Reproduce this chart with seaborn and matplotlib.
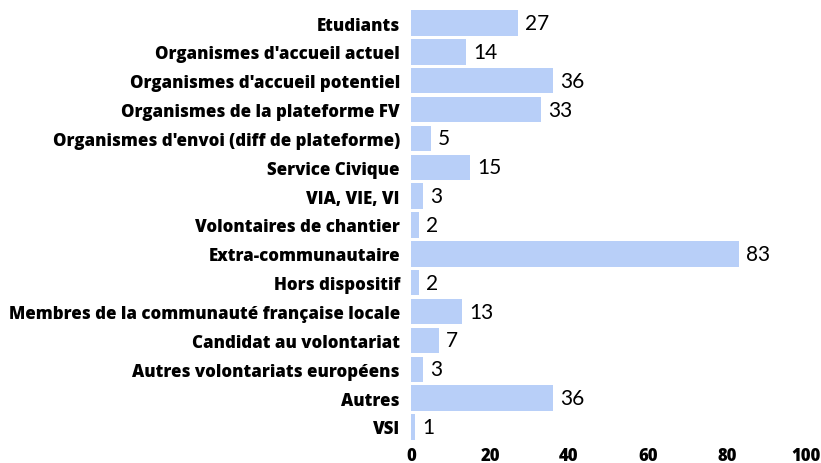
import matplotlib
matplotlib.use("Agg")
import pandas as pd
import seaborn as sns
import matplotlib.pyplot as plt

categories = [
    "Etudiants",
    "Organismes d'accueil actuel",
    "Organismes d'accueil potentiel",
    "Organismes de la plateforme FV",
    "Organismes d'envoi (diff de plateforme)",
    "Service Civique",
    "VIA, VIE, VI",
    "Volontaires de chantier",
    "Extra-communautaire",
    "Hors dispositif",
    "Membres de la communauté française locale",
    "Candidat au volontariat",
    "Autres volontariats européens",
    "Autres",
    "VSI",
]
values = [27, 14, 36, 33, 5, 15, 3, 2, 83, 2, 13, 7, 3, 36, 1]
x_ticks = [0, 20, 40, 60, 80, 100]

df = pd.DataFrame({"categorie": categories, "nombre": values})

sns.set_style("white")
plt.rcParams["font.family"] = ["Open Sans", "DejaVu Sans"]

fig = plt.figure(figsize=(8.21, 4.64), dpi=100)
ax = fig.add_axes([0.5006, 0.0466, 0.4809, 0.9327])

sns.barplot(data=df, x="nombre", y="categorie", color="#b8cff8", width=0.88,
            saturation=1, orient="h", linewidth=0, ax=ax)

for i, v in enumerate(values):
    ax.text(v + 1.8, i, str(v), va="center", ha="left", fontsize=15,
            fontweight="normal", family=["Lato", "DejaVu Sans"], color="black")

ax.set_xlim(0, 100)
ax.set_ylim(14.5, -0.5)
ax.set_xticks(x_ticks)
ax.set_xticklabels([str(t) for t in x_ticks], fontweight=800, fontsize=12, color="black")
ax.set_yticklabels(categories, fontweight=800, fontsize=12.2, color="black")
ax.tick_params(axis="both", length=0, pad=4)
ax.tick_params(axis="y", pad=8)
ax.set_xlabel("")
ax.set_ylabel("")
sns.despine(ax=ax, left=True, bottom=True)

fig.savefig("out.png", dpi=100)
